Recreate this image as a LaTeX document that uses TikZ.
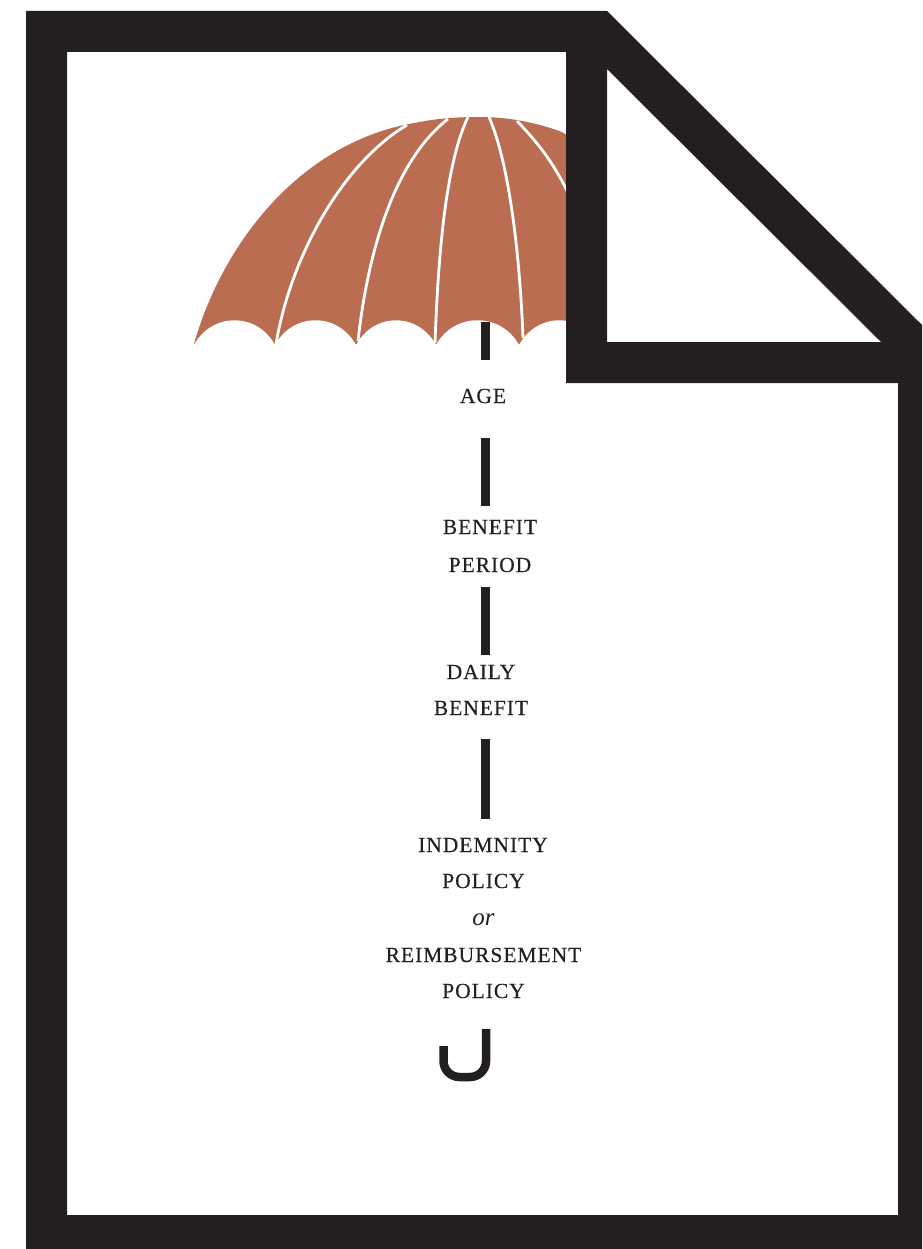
\documentclass[tikz,border=0pt]{standalone}
\usepackage{fontspec}
\usepackage{xcolor}
\setmainfont{Liberation Serif}
\newfontfamily\rotulofont[LetterSpace=4.5, FakeBold=0.25]{Liberation Serif}
\definecolor{gtinta}{HTML}{231F20}
\definecolor{gtela}{HTML}{BB6D51}
\tikzset{
  rotulo/.style={anchor=base, inner sep=0pt, text=gtinta, font=\rotulofont\fontsize{21.5}{26}\selectfont},
  rotuloit/.style={anchor=base, inner sep=0pt, text=gtinta, font=\itshape\fontsize{25}{30}\selectfont},
  varilla/.style={draw=white, line width=2.8pt},
  baston/.style={draw=gtinta, line width=8.5pt}
}
\begin{document}
\begin{tikzpicture}[x=1pt, y=-1pt]
  \useasboundingbox (0,0) rectangle (922,1249);
  % canopy
  \fill[gtela] (194,344) .. controls (222,245) and (300,140) .. (420,122)
    .. controls (440,118) and (460,117) .. (480,117)
    .. controls (510,117) and (540,123) .. (570,135) -- (570,344) -- cycle;
  \foreach \a/\b in {194/275, 275/356, 356/436, 436/519, 519/600}
    \fill[white] (\a,345) .. controls (\a+18,312) and (\b-18,312) .. (\b,345) -- cycle;
  % ribs
  \draw[varilla] (276,344) .. controls (290,260) and (340,165) .. (407,125);
  \draw[varilla] (358,341) .. controls (368,250) and (395,160) .. (448,119);
  \draw[varilla] (435,343) .. controls (438,260) and (445,165) .. (468,117);
  \draw[varilla] (523,338) .. controls (520,260) and (510,165) .. (489,117);
  \draw[varilla] (570,197) .. controls (555,165) and (540,145) .. (517,121);
  \draw[varilla] (558,128) -- (570,135);
  % stem
  \foreach \i/\ya/\yb in {1/322/360, 2/438/506, 3/587/655, 4/739/819} {
    \coordinate (ini\i) at (485.5,\ya);
    \coordinate (fin\i) at (485.5,\yb);
    \draw[baston] (ini\i) -- (fin\i);
  }
  % handle
  \coordinate (mango1) at (486,1029);
  \coordinate (mango2) at (443.5,1046);
  \draw[baston, rounded corners=16pt] (mango1) -- (486,1077) -- (443.5,1077) -- (mango2);
  % labels
  \node[rotulo] (age) at (483,403) {AGE};
  \node[rotulo] (periodoa) at (490,534) {BENEFIT};
  \node[rotulo] (periodob) at (490,572) {PERIOD};
  \node[rotulo] (diarioa) at (481,679) {DAILY};
  \node[rotulo] (diariob) at (481,715) {BENEFIT};
  \node[rotulo] (indemnidad) at (483,852) {INDEMNITY};
  \node[rotulo] (polizaa) at (483.5,888) {POLICY};
  \node[rotuloit] (oo) at (483.5,925) {or};
  \node[rotulo] (reembolso) at (483.5,962) {REIMBURSEMENT};
  \node[rotulo] (polizab) at (483.5,998) {POLICY};
  % frame
  \fill[gtinta, even odd rule]
    (26,11) -- (607,11) -- (922,325) -- (922,1249) -- (26,1249) -- cycle
    (67,52) -- (566,52) -- (566,383) -- (898,383) -- (898,1215) -- (67,1215) -- cycle
    (607,69) -- (881,342) -- (607,342) -- cycle;
\end{tikzpicture}
\end{document}
